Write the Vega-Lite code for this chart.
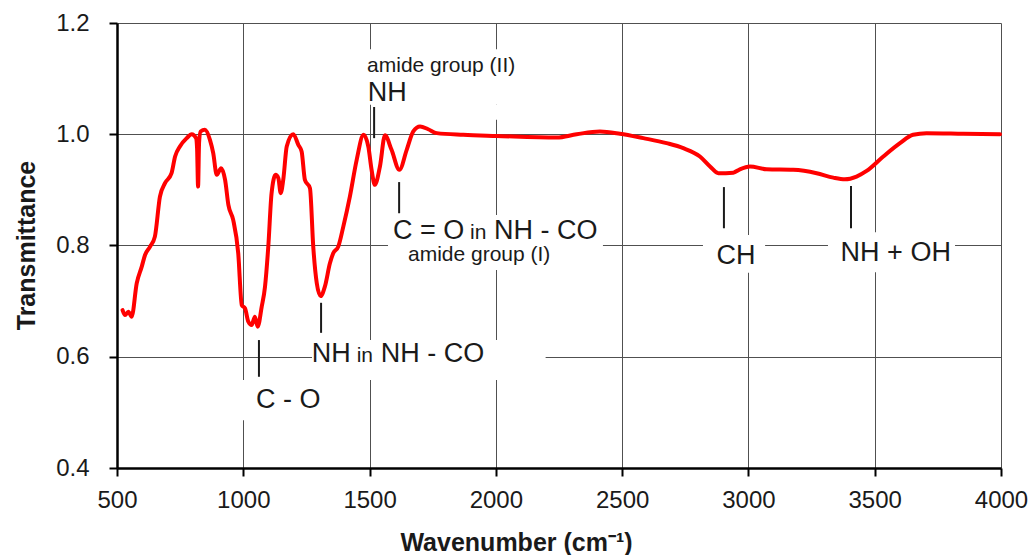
{
  "$schema": "https://vega.github.io/schema/vega-lite/v6.json",
  "width": 884,
  "height": 445,
  "autosize": {"type": "none"},
  "padding": {"left": 117, "top": 23, "right": 32, "bottom": 87},
  "background": "white",
  "config": {
    "view": {"stroke": null},
    "font": "Liberation Sans",
    "axis": {"labelFont": "Liberation Sans", "titleFont": "Liberation Sans", "labelColor": "#1a1a1a", "titleColor": "#1a1a1a", "labelFlush": false, "labelOverlap": false}
  },
  "datasets": {
    "spectrum": [
      {"wn": 522, "T": 0.684}, {"wn": 532, "T": 0.675}, {"wn": 545, "T": 0.681}, {"wn": 558, "T": 0.672},
      {"wn": 578, "T": 0.732}, {"wn": 598, "T": 0.762}, {"wn": 611, "T": 0.783}, {"wn": 631, "T": 0.798},
      {"wn": 650, "T": 0.816}, {"wn": 670, "T": 0.888}, {"wn": 690, "T": 0.912}, {"wn": 716, "T": 0.930},
      {"wn": 730, "T": 0.960}, {"wn": 749, "T": 0.978}, {"wn": 776, "T": 0.993}, {"wn": 796, "T": 1.000},
      {"wn": 813, "T": 0.993}, {"wn": 817, "T": 0.975}, {"wn": 821, "T": 0.906}, {"wn": 825, "T": 0.985},
      {"wn": 831, "T": 1.005}, {"wn": 848, "T": 1.008}, {"wn": 868, "T": 0.990}, {"wn": 881, "T": 0.966},
      {"wn": 895, "T": 0.927}, {"wn": 912, "T": 0.939}, {"wn": 928, "T": 0.918}, {"wn": 941, "T": 0.873},
      {"wn": 960, "T": 0.846}, {"wn": 980, "T": 0.786}, {"wn": 994, "T": 0.693}, {"wn": 1007, "T": 0.687},
      {"wn": 1020, "T": 0.663}, {"wn": 1033, "T": 0.657}, {"wn": 1046, "T": 0.672}, {"wn": 1057, "T": 0.654},
      {"wn": 1073, "T": 0.690}, {"wn": 1086, "T": 0.726}, {"wn": 1099, "T": 0.798}, {"wn": 1112, "T": 0.894},
      {"wn": 1128, "T": 0.927}, {"wn": 1139, "T": 0.921}, {"wn": 1148, "T": 0.894}, {"wn": 1159, "T": 0.921},
      {"wn": 1172, "T": 0.978}, {"wn": 1198, "T": 1.000}, {"wn": 1218, "T": 0.981}, {"wn": 1231, "T": 0.969},
      {"wn": 1244, "T": 0.918}, {"wn": 1264, "T": 0.903}, {"wn": 1277, "T": 0.798}, {"wn": 1291, "T": 0.732},
      {"wn": 1306, "T": 0.709}, {"wn": 1323, "T": 0.726}, {"wn": 1343, "T": 0.768}, {"wn": 1356, "T": 0.786},
      {"wn": 1376, "T": 0.798}, {"wn": 1396, "T": 0.834}, {"wn": 1422, "T": 0.888}, {"wn": 1449, "T": 0.954},
      {"wn": 1476, "T": 0.999}, {"wn": 1495, "T": 0.978}, {"wn": 1508, "T": 0.936}, {"wn": 1521, "T": 0.909},
      {"wn": 1541, "T": 0.942}, {"wn": 1561, "T": 0.998}, {"wn": 1587, "T": 0.972}, {"wn": 1618, "T": 0.936},
      {"wn": 1647, "T": 0.972}, {"wn": 1673, "T": 1.005}, {"wn": 1700, "T": 1.014}, {"wn": 1732, "T": 1.009},
      {"wn": 1766, "T": 1.002}, {"wn": 1871, "T": 0.999}, {"wn": 2003, "T": 0.997}, {"wn": 2241, "T": 0.994},
      {"wn": 2320, "T": 1.000}, {"wn": 2412, "T": 1.005}, {"wn": 2491, "T": 1.001}, {"wn": 2584, "T": 0.993},
      {"wn": 2676, "T": 0.984}, {"wn": 2742, "T": 0.975}, {"wn": 2808, "T": 0.960}, {"wn": 2848, "T": 0.942},
      {"wn": 2881, "T": 0.930}, {"wn": 2940, "T": 0.931}, {"wn": 2966, "T": 0.937}, {"wn": 3006, "T": 0.942},
      {"wn": 3072, "T": 0.937}, {"wn": 3177, "T": 0.936}, {"wn": 3270, "T": 0.930}, {"wn": 3336, "T": 0.922},
      {"wn": 3382, "T": 0.919}, {"wn": 3428, "T": 0.924}, {"wn": 3468, "T": 0.934}, {"wn": 3534, "T": 0.960},
      {"wn": 3600, "T": 0.984}, {"wn": 3652, "T": 0.999}, {"wn": 3705, "T": 1.002}, {"wn": 3850, "T": 1.001},
      {"wn": 3996, "T": 1.000}
    ],
    "boxes": [
      {"wn": 1482, "wn2": 2123, "T": 1.153, "T2": 1.053},
      {"wn": 1530, "wn2": 2123, "T": 1.053, "T2": 1.026},
      {"wn": 1573, "wn2": 2424, "T": 0.855, "T2": 0.756},
      {"wn": 2820, "wn2": 3066, "T": 0.819, "T2": 0.751},
      {"wn": 3315, "wn2": 3818, "T": 0.824, "T2": 0.752},
      {"wn": 1272, "wn2": 2197, "T": 0.630, "T2": 0.558},
      {"wn": 991, "wn2": 1343, "T": 0.558, "T2": 0.486}
    ],
    "ticks": [
      {"wn": 1518, "T": 1.049, "T2": 0.993},
      {"wn": 1617, "T": 0.914, "T2": 0.858},
      {"wn": 2903, "T": 0.905, "T2": 0.831},
      {"wn": 3406, "T": 0.907, "T2": 0.831},
      {"wn": 1062, "T": 0.630, "T2": 0.564},
      {"wn": 1308, "T": 0.697, "T2": 0.643}
    ],
    "bigText": [
      {"wn": 1493, "T": 1.060, "label": "NH"},
      {"wn": 1593, "T": 0.812, "label": "C = O"},
      {"wn": 1993, "T": 0.812, "label": "NH - CO"},
      {"wn": 2874, "T": 0.767, "label": "CH"},
      {"wn": 3365, "T": 0.773, "label": "NH + OH"},
      {"wn": 1050, "T": 0.508, "label": "C - O"},
      {"wn": 1271, "T": 0.591, "label": "NH"},
      {"wn": 1544, "T": 0.591, "label": "NH - CO"}
    ],
    "smallText": [
      {"wn": 1490, "T": 1.1125, "label": "amide group (II)"},
      {"wn": 1898, "T": 0.812, "label": "in"},
      {"wn": 1652, "T": 0.773, "label": "amide group (I)"},
      {"wn": 1449, "T": 0.591, "label": "in"}
    ]
  },
  "encoding": {
    "x": {
      "field": "wn", "type": "quantitative",
      "scale": {"domain": [500, 4000], "nice": false, "zero": false},
      "axis": {
        "values": [500, 1000, 1500, 2000, 2500, 3000, 3500, 4000],
        "format": "d",
        "grid": true, "gridColor": "#505050", "gridWidth": 1,
        "domainColor": "#000000", "domainWidth": 2.5,
        "tickColor": "#000000", "tickWidth": 2, "tickSize": 8,
        "labelFontSize": 24, "labelPadding": 12,
        "title": "Wavenumber (cm⁻¹)",
        "titleFontSize": 25, "titleFontWeight": "bold",
        "titleX": 399, "titleY": 82, "titleAlign": "center", "titleBaseline": "alphabetic"
      }
    },
    "y": {
      "field": "T", "type": "quantitative",
      "scale": {"domain": [0.4, 1.2], "nice": false, "zero": false},
      "axis": {
        "values": [0.4, 0.6, 0.8, 1.0, 1.2],
        "format": ".1f",
        "grid": true, "gridColor": "#505050", "gridWidth": 1,
        "domainColor": "#000000", "domainWidth": 2.5,
        "tickColor": "#000000", "tickWidth": 2, "tickSize": 8,
        "labelFontSize": 24, "labelPadding": 20,
        "title": "Transmittance",
        "titleFontSize": 25, "titleFontWeight": "bold",
        "titleX": -78, "titleY": 222, "titleAngle": -90, "titleAlign": "center", "titleBaseline": "bottom"
      }
    }
  },
  "layer": [
    {
      "data": {"name": "boxes"},
      "mark": {"type": "rect", "fill": "white", "stroke": null},
      "encoding": {"x2": {"field": "wn2"}, "y2": {"field": "T2"}}
    },
    {
      "data": {"name": "ticks"},
      "mark": {"type": "rule", "color": "#1a1a1a", "strokeWidth": 2},
      "encoding": {"y2": {"field": "T2"}}
    },
    {
      "data": {"name": "spectrum"},
      "mark": {"type": "line", "color": "#ff0000", "strokeWidth": 4, "strokeJoin": "round", "strokeCap": "round", "interpolate": "monotone"}
    },
    {
      "data": {"name": "bigText"},
      "mark": {"type": "text", "align": "left", "baseline": "alphabetic", "fontSize": 27, "font": "Liberation Sans", "color": "#1a1a1a"},
      "encoding": {"text": {"field": "label"}}
    },
    {
      "data": {"name": "smallText"},
      "mark": {"type": "text", "align": "left", "baseline": "alphabetic", "fontSize": 21, "font": "Liberation Sans", "color": "#1a1a1a"},
      "encoding": {"text": {"field": "label"}}
    }
  ]
}
